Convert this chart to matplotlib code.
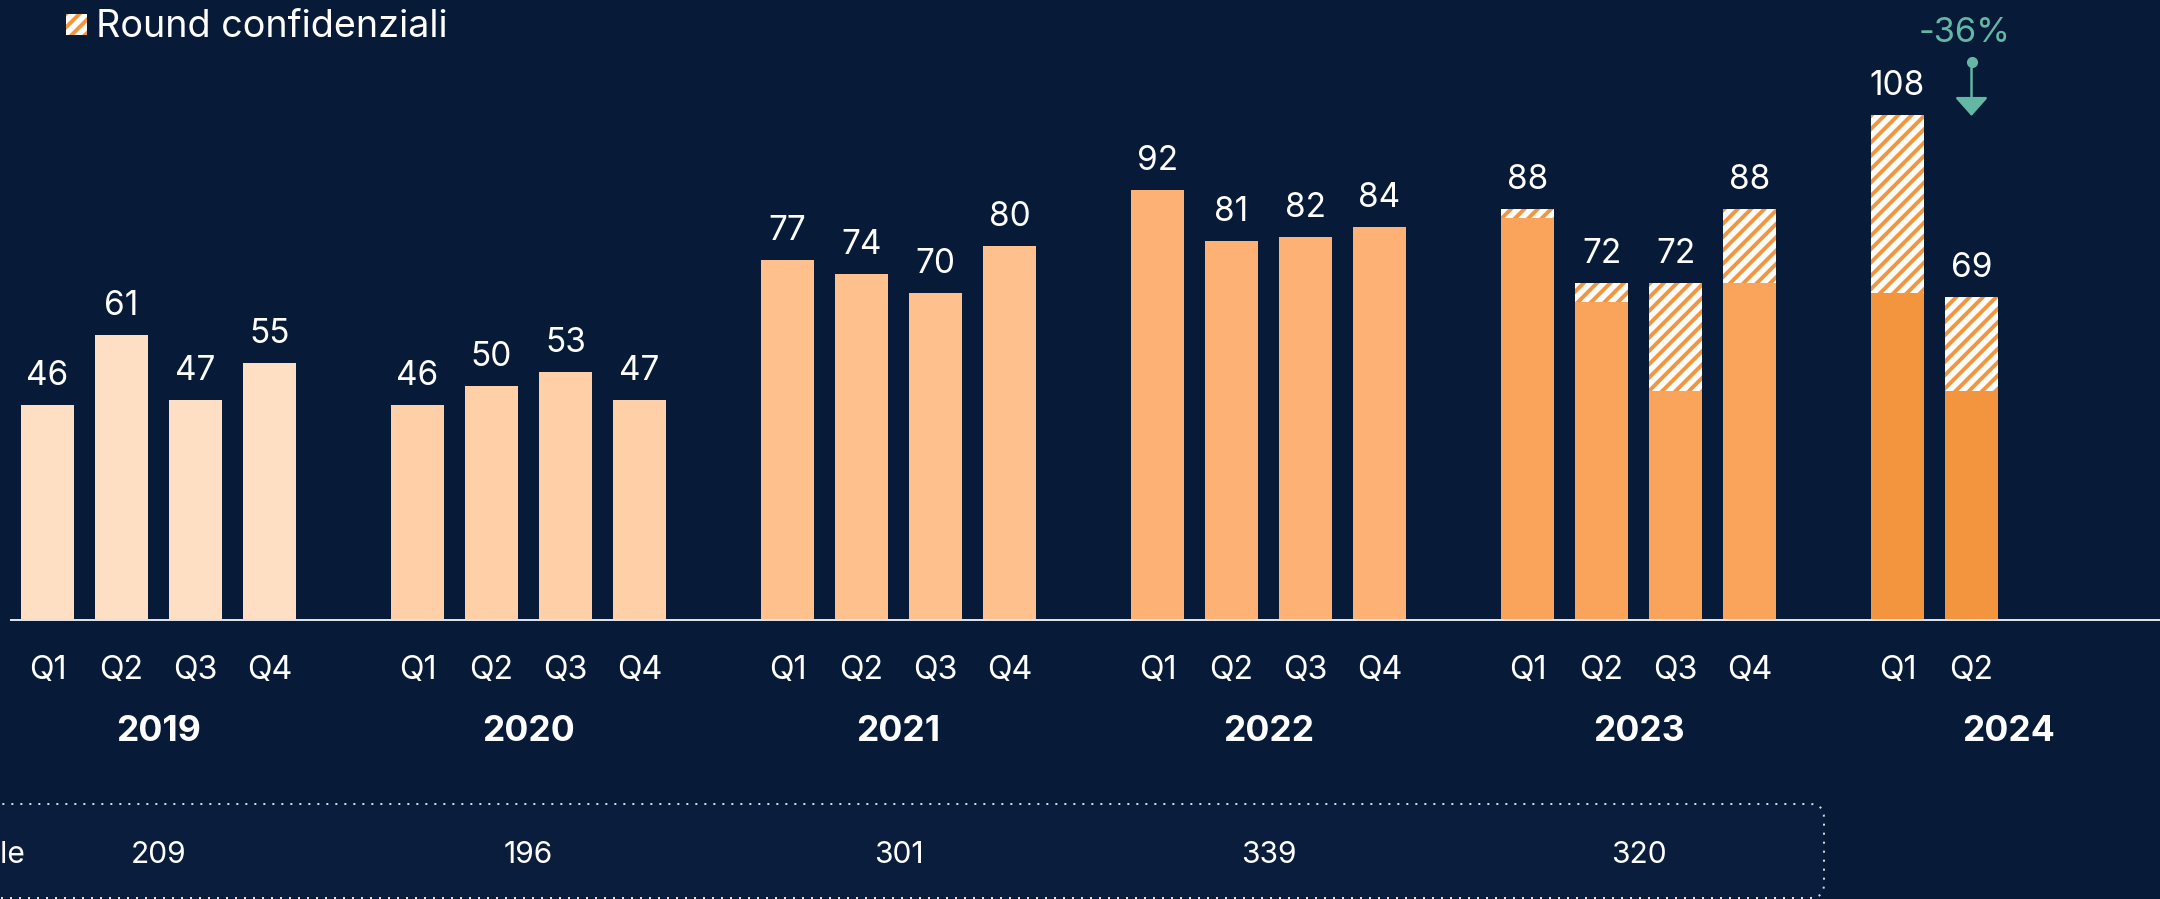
import matplotlib
matplotlib.use('Agg')
import matplotlib.pyplot as plt
from matplotlib.patches import FancyBboxPatch, Rectangle
from matplotlib.transforms import IdentityTransform

# ---------------- data ----------------
years = ['2019', '2020', '2021', '2022', '2023', '2024']
quarters = ['Q1', 'Q2', 'Q3', 'Q4']
totals = [
    [46, 61, 47, 55],
    [46, 50, 53, 47],
    [77, 74, 70, 80],
    [92, 81, 82, 84],
    [88, 72, 72, 88],
    [108, 69],
]
confidential = [
    [0, 0, 0, 0],
    [0, 0, 0, 0],
    [0, 0, 0, 0],
    [0, 0, 0, 0],
    [2, 4, 23, 16],
    [38, 20],
]
annual_totals = [209, 196, 301, 339, 320]
annual_label = 'Totale'
legend_label = 'Round confidenziali'
change_label = '-36%'

# ---------------- style ----------------
BG = '#071A38'
BOXC = '#0A1D3C'
TEAL = '#63B8A3'
HATCH_C = '#F3953F'
year_colors = ['#FFDFC4', '#FFD0A8', '#FEC08D', '#FDB175', '#F9A35B', '#F3953F']
FONT = ['Inter', 'DejaVu Sans']

DPI = 80
W, H = 2160, 899
X0, SLOT = 47.5, 74.0      # pixel centre of first slot, pixels per slot
BASE, PXU = 620.0, 4.676   # baseline pixel (from top), pixels per unit

plt.rcParams['font.family'] = FONT
plt.rcParams['hatch.linewidth'] = 3.5

fig = plt.figure(figsize=(W / DPI, H / DPI), dpi=DPI, facecolor=BG)
ax = fig.add_axes([0, 0, 1, 1])
ax.set_facecolor(BG)
ax.axis('off')
ax.set_xlim((0 - X0) / SLOT, (W - X0) / SLOT)
ax.set_ylim(-(H - BASE) / PXU, BASE / PXU)


def ypx(p):
    return (BASE - p) / PXU


def xpx(p):
    return (p - X0) / SLOT


# bottom box with annual totals (drawn first, behind texts)
box = FancyBboxPatch((-40, 1), 1824 + 40, 94,
                     boxstyle='round,pad=0,rounding_size=14',
                     transform=IdentityTransform(), facecolor=BOXC,
                     edgecolor=(1, 1, 1, 0.85), lw=1.8, ls=(0, (1, 3.5)),
                     zorder=0.5, clip_on=False)
ax.add_patch(box)

BW = 0.72
for g, (yr, tots, confs) in enumerate(zip(years, totals, confidential)):
    start = 5 * g
    for q, (tot, conf) in enumerate(zip(tots, confs)):
        x = start + q
        solid = tot - conf
        ax.bar(x, solid, width=BW, color=year_colors[g], lw=0, zorder=2)
        if conf > 0:
            ax.bar(x, conf, bottom=solid, width=BW, facecolor='white',
                   edgecolor=HATCH_C, hatch='//', lw=0, zorder=2)
        ax.annotate(str(tot), (x, tot), xytext=(0, 18), textcoords='offset points',
                    ha='center', va='baseline', color='white', fontsize=30)
        ax.text(x, ypx(679), quarters[q], ha='center', va='baseline',
                color='white', fontsize=29)
    ax.text(start + 1.5, ypx(741), yr, ha='center', va='baseline',
            color='white', fontsize=32, fontweight='bold')

# baseline
ax.axhline(0, xmin=11 / W, xmax=1, color='#DCE0E8', lw=1.8, zorder=3)

# change annotation
g_last = len(years) - 1
x_arrow = 5 * g_last + 1
ax.annotate('', xy=(x_arrow, ypx(116)), xytext=(x_arrow, ypx(62)),
            arrowprops=dict(arrowstyle='-|>,head_length=0.45,head_width=0.4',
                            color=TEAL, lw=2.2, mutation_scale=32,
                            shrinkA=0, shrinkB=0), zorder=4)
ax.plot([x_arrow], [ypx(62)], 'o', color=TEAL, ms=9, zorder=5)
ax.text(x_arrow - 0.09, ypx(42), change_label, ha='center', va='baseline',
        color=TEAL, fontsize=31)

for g, tot in enumerate(annual_totals):
    ax.text(5 * g + 1.5, ypx(863), str(tot), ha='center', va='baseline',
            color='white', fontsize=27, zorder=3)
ax.text(xpx(25), ypx(863), annual_label, ha='right', va='baseline',
        color='white', fontsize=27, zorder=3)

# legend
leg_patch = Rectangle((66, H - 35), 21, 21, transform=IdentityTransform(),
                      facecolor='white', edgecolor=HATCH_C, hatch='//', lw=0)
fig.add_artist(leg_patch)
fig.text(96, H - 37, legend_label, transform=IdentityTransform(),
         ha='left', va='baseline', color='white', fontsize=34)

fig.savefig('out.png', dpi=DPI, facecolor=BG)
